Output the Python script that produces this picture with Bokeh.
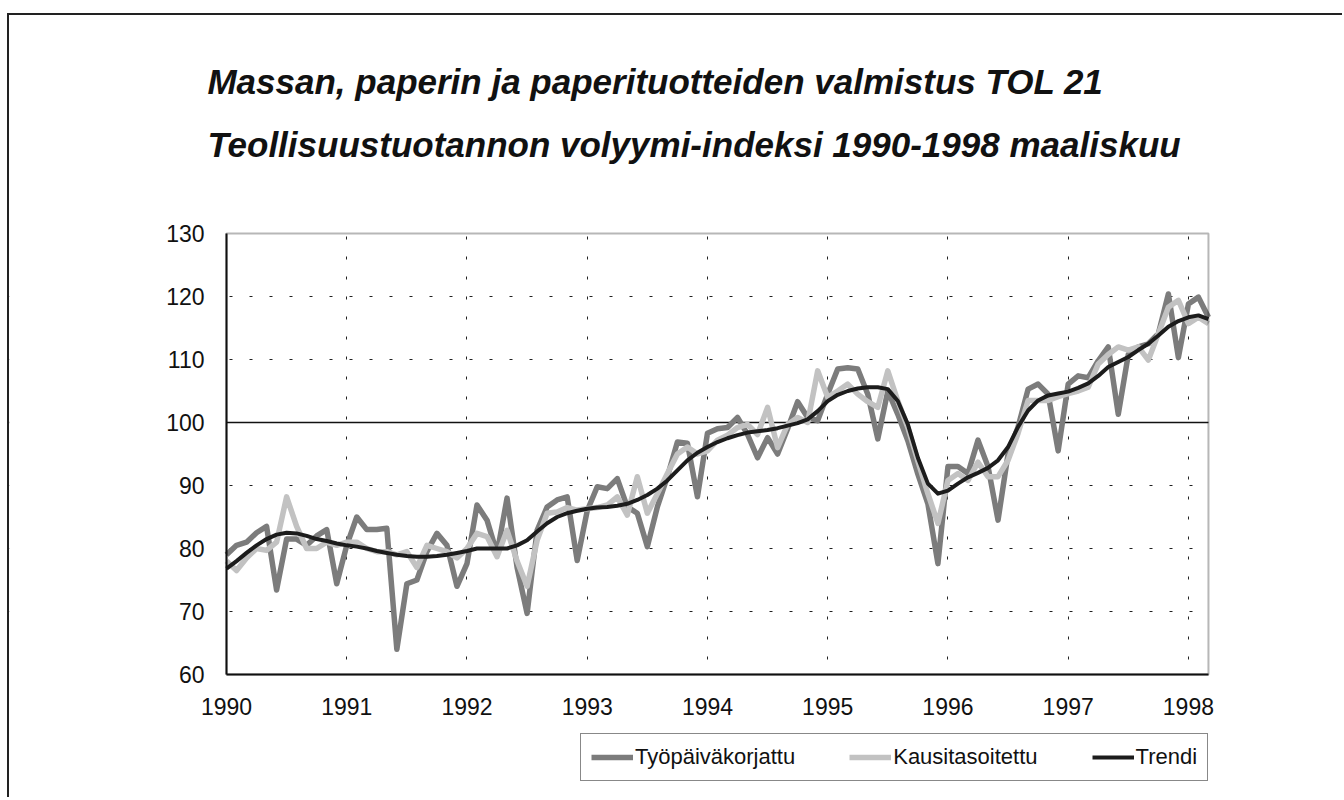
from bokeh.plotting import figure
from bokeh.models import (Range1d, FixedTicker, Legend, LegendItem, Label, LinearAxis,
                          Grid, BoxAnnotation)
from bokeh.embed import file_html
from bokeh.resources import INLINE

title_1 = "Massan, paperin ja paperituotteiden valmistus TOL 21"
title_2 = "Teollisuustuotannon volyymi-indeksi 1990-1998 maaliskuu"
year_labels = ["1990", "1991", "1992", "1993", "1994", "1995", "1996", "1997", "1998"]
series_names = ["Työpäiväkorjattu", "Kausitasoitettu", "Trendi"]

# monthly values Jan 1990 .. Mar 1998
tyopaivakorjattu = [
    79, 80.5, 81, 82.5, 83.5, 73.4, 81.5, 81.5, 80.5, 82, 83, 74.4,
    80.5, 85, 83, 83, 83.2, 64, 74.4, 75, 79.5, 82.4, 80.5, 74,
    77.6, 86.9, 84.5, 79.2, 88, 77, 69.7, 82.9, 86.6, 87.7, 88.2, 78.1,
    86, 89.8, 89.5, 91.1, 86.6, 85.6, 80.3, 86.6, 91.4, 96.9, 96.7, 88.2,
    98.3, 99, 99.2, 100.8, 98.1, 94.4, 97.6, 95, 99, 103.3, 100.8, 100.3,
    104.5, 108.5, 108.7, 108.5, 104.5, 97.4, 105, 101.3, 97.1, 91.8, 87.1, 77.6,
    93, 93, 91.9, 97.2, 93, 84.5, 95, 99.3, 105.3, 106.1, 104.5, 95.5,
    106.1, 107.4, 107.1, 109.8, 112, 101.3, 110.8, 112, 112.5, 114.1, 120.4, 110.3,
    118.8, 119.9, 116.7,
]
kausitasoitettu = [
    78, 76.5, 78.5, 80, 79.7, 81, 88.2, 83.5, 80, 80, 81, 80.5,
    81, 81, 80, 79.5, 79.5, 79, 79.5, 77, 80.5, 80, 79.5, 78.5,
    80, 82.4, 81.9, 78.7, 82.9, 78, 74, 81.3, 85.6, 85.8, 86.5, 86.1,
    86.3, 86.5, 86.9, 88.2, 85.3, 91.4, 85.6, 88.7, 91.9, 95, 96.1, 95,
    95.5, 97.2, 98, 99.2, 99.7, 98.1, 102.4, 96, 99.7, 100.8, 100, 108.2,
    104, 105, 106.1, 104.5, 103.3, 102.4, 108.2, 103.4, 99.2, 93.9, 88.7, 84,
    90.8, 91.9, 90.8, 93.7, 91.4, 91.4, 94, 98.3, 103.5, 103.5, 103.5, 104.1,
    104.6, 105, 105.6, 109.3, 110.8, 112, 111.5, 112, 109.9, 114.1, 118.3, 119.4,
    115.7, 116.7, 115.7,
]
trendi = [
    76.8, 78, 79.3, 80.5, 81.5, 82.2, 82.5, 82.4, 82, 81.5, 81.2, 80.8,
    80.5, 80.3, 80, 79.6, 79.3, 79, 78.8, 78.7, 78.7, 78.8, 79, 79.3,
    79.6, 80, 80, 80, 80, 80.5, 81.3, 82.7, 84, 85, 85.6, 86,
    86.3, 86.5, 86.6, 86.8, 87.1, 87.7, 88.5, 89.5, 90.8, 92.4, 94, 95.2,
    96.1, 96.9, 97.5, 98, 98.4, 98.6, 98.8, 99.1, 99.5, 99.9, 100.5, 101.8,
    103.4, 104.4, 105, 105.4, 105.6, 105.6, 105.3, 103.4, 99.7, 94.4, 90.3, 88.7,
    89.2, 90.3, 91.3, 92, 92.8, 94, 96.1, 99.3, 101.9, 103.5, 104.3, 104.6,
    104.9, 105.5, 106.2, 107.4, 108.8, 109.6, 110.4, 111.5, 112.5, 113.8, 115.2, 116.1,
    116.7, 117, 116.4,
]
months = list(range(len(tyopaivakorjattu)))
year_ticks = [12 * k for k in range(len(year_labels))]
y_ticks = list(range(60, 131, 10))
Y_MIN, Y_MAX = 60, 130
X_MIN, X_MAX = 0, months[-1]

FONT = "Liberation Sans"
INK = "#111111"

# the frame fills the whole canvas; the plot area is [0, 98] x [60, 130]
XS, XE = -21.657, 111.577
YS, YE = 40.159, 164.603

p = figure(width=1335, height=784, output_backend="svg", toolbar_location=None, title=None,
           x_range=Range1d(XS, XE), y_range=Range1d(YS, YE),
           x_axis_location=None, y_axis_location=None, min_border=0)
p.center = []
p.background_fill_color = "white"
p.border_fill_color = "white"
p.outline_line_color = None
p.styles = {"border-top": "2px solid #222222", "border-left": "2px solid #222222",
            "margin-top": "13px", "margin-left": "7px"}

# grids
p.add_layout(Grid(dimension=0, ticker=FixedTicker(ticks=year_ticks), grid_line_color="#222222",
                  grid_line_dash="3 17", grid_line_width=1))
p.add_layout(Grid(dimension=1, ticker=FixedTicker(ticks=[70, 80, 90, 110, 120]),
                  grid_line_color="#222222", grid_line_dash="3 17", grid_line_width=1))
p.add_layout(Grid(dimension=1, ticker=FixedTicker(ticks=[100]), grid_line_color=INK,
                  grid_line_width=1.5))
# white masks keep the grid inside the plot area
for l, r, b, t in ((XS, X_MIN, YS, YE), (X_MAX, XE, YS, YE),
                   (XS, XE, Y_MAX, YE), (XS, XE, YS, Y_MIN)):
    p.add_layout(BoxAnnotation(left=l, right=r, bottom=b, top=t, fill_color="white",
                               fill_alpha=1, line_color=None, level="underlay"))

# axes
xaxis = LinearAxis(fixed_location=Y_MIN, ticker=FixedTicker(ticks=year_ticks),
                   bounds=(X_MIN, X_MAX),
                   major_label_overrides={t: lab for t, lab in zip(year_ticks, year_labels)})
yaxis = LinearAxis(fixed_location=X_MIN, ticker=FixedTicker(ticks=y_ticks), bounds=(Y_MIN, Y_MAX))
for ax in (xaxis, yaxis):
    ax.axis_line_color = INK
    ax.axis_line_width = 2
    ax.major_tick_out = 0
    ax.major_tick_in = 0
    ax.minor_tick_out = 0
    ax.minor_tick_in = 0
    ax.major_label_text_font = FONT
    ax.major_label_text_font_size = "23px"
    ax.major_label_text_color = INK
xaxis.major_label_standoff = 23
yaxis.major_label_standoff = 22
p.add_layout(xaxis, "below")
p.add_layout(yaxis, "left")

r1 = p.line(months, tyopaivakorjattu, line_color="#7c7c7c", line_width=5.5, line_join="round")
r2 = p.line(months, kausitasoitettu, line_color="#c2c2c2", line_width=5.5, line_join="round")
r3 = p.line(months, trendi, line_color="#1c1c1c", line_width=4, line_join="round")

# plot-area box
p.add_layout(BoxAnnotation(left=X_MIN, right=X_MAX, bottom=Y_MIN, top=Y_MAX, fill_alpha=0,
                           line_color=INK, line_width=2))

legend = Legend(items=[LegendItem(label=series_names[0], renderers=[r1]),
                       LegendItem(label=series_names[1], renderers=[r2]),
                       LegendItem(label=series_names[2], renderers=[r3])],
                orientation="horizontal", location=(571, 18))
legend.label_text_font = FONT
legend.label_text_font_size = "22px"
legend.label_text_color = INK
legend.glyph_width = 42
legend.glyph_height = 20
legend.label_standoff = 2
legend.spacing = 54
legend.padding = 10
legend.margin = 0
legend.border_line_color = INK
legend.border_line_width = 1.5
legend.background_fill_color = "white"
legend.background_fill_alpha = 1
p.add_layout(legend, "center")

for txt, yy in ((title_1, 154.1), (title_2, 144.1)):
    p.add_layout(Label(x=-1.9, y=yy, text=txt, text_font=FONT, text_font_size="35px",
                       text_font_style="bold italic", text_color=INK,
                       text_baseline="alphabetic", text_align="left"))

open("out.html", "w").write(file_html(p, INLINE))
